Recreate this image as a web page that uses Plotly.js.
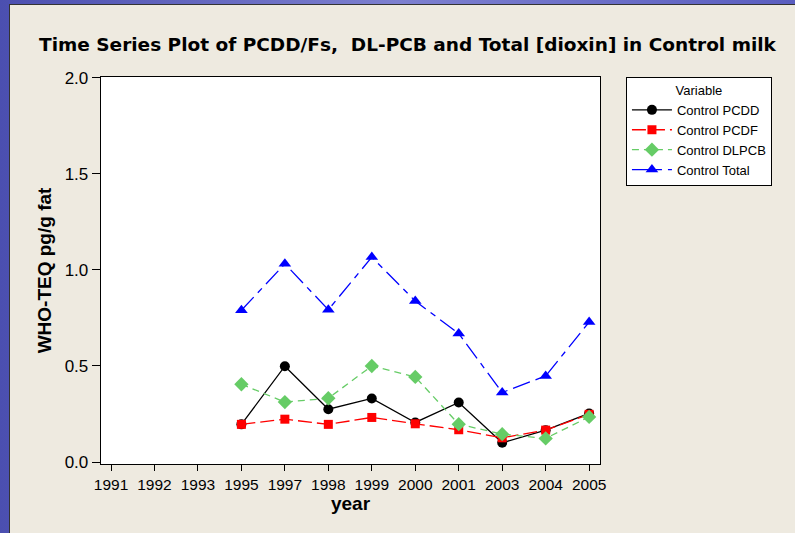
<!DOCTYPE html>
<html>
<head>
<meta charset="utf-8">
<script src="https://cdn.plot.ly/plotly-3.0.1.min.js"></script>
<style>
html,body{margin:0;padding:0;width:795px;height:533px;overflow:hidden;
  background:linear-gradient(90deg,#4b4fb0 0%,#7d80d0 50%,#5a5ec0 100%);}
#chart{position:absolute;left:9px;top:4px;width:786px;height:529px;
  border-left:1px solid #333;border-top:1px solid #333;background:#EEEAE0;}
</style>
</head>
<body>
<div id="chart"></div>
<script>
var years = ["1991","1992","1993","1995","1997","1998","1999","2000","2001","2003","2004","2005"];
var dataYears = ["1995","1997","1998","1999","2000","2001","2003","2004","2005"];
var pcdd  = [0.196,0.499,0.275,0.331,0.206,0.310,0.100,0.166,0.253];
var pcdf  = [0.196,0.223,0.196,0.232,0.199,0.168,0.126,0.166,0.248];
var dlpcb = [0.405,0.312,0.332,0.500,0.443,0.197,0.145,0.123,0.235];
var total = [0.790,1.032,0.793,1.067,0.838,0.669,0.362,0.448,0.729];
var yTicks = [0,0.5,1.0,1.5,2.0];
var yTickText = ["0.0","0.5","1.0","1.5","2.0"];

var traces = [
  {x:dataYears,y:pcdd,name:"Control PCDD",mode:"lines+markers",
   line:{color:"#000000",width:1.3,dash:"solid"},marker:{symbol:"circle",size:10,color:"#000000"}},
  {x:dataYears,y:pcdf,name:"Control PCDF",mode:"lines+markers",
   line:{color:"#FF0000",width:1.3,dash:"14px,5px"},marker:{symbol:"square",size:9,color:"#FF0000"}},
  {x:dataYears,y:dlpcb,name:"Control DLPCB",mode:"lines+markers",
   line:{color:"#66CC66",width:1.3,dash:"7px,5px"},marker:{symbol:"diamond",size:11,color:"#66CC66"}},
  {x:dataYears,y:total,name:"Control Total",mode:"lines+markers",
   line:{color:"#0000FF",width:1.3,dash:"18px,6px,6px,6px"},marker:{symbol:"triangle-up",size:11,color:"#0000FF"}}
];

var layout = {
  width:786,height:529,
  margin:{l:91,r:196,t:72,b:70},
  paper_bgcolor:"#EEEAE0",plot_bgcolor:"#FFFFFF",
  font:{family:"Liberation Sans, Arial, sans-serif",color:"#000000",size:13},
  title:{text:"<b>Time Series Plot of PCDD/Fs,  DL-PCB and Total [dioxin] in Control milk</b>",
    font:{size:18.5,family:"DejaVu Sans, Verdana, sans-serif"},x:0.5057,xref:"container",xanchor:"center",
    y:1-(40/529),yref:"container",yanchor:"middle"},
  xaxis:{type:"category",categoryorder:"array",categoryarray:years,range:[-0.23,11.25],
    tickmode:"array",tickvals:years,ticktext:years,
    showline:true,linecolor:"#000",linewidth:1.3,mirror:true,ticks:"outside",ticklen:6,tickcolor:"#000",
    showgrid:false,zeroline:false,
    tickfont:{size:15.5},
    title:{text:"<b>year</b>",font:{size:19},standoff:3}},
  yaxis:{range:[-0.0104,2.005],tickmode:"array",tickvals:yTicks,ticktext:yTickText,
    showline:true,linecolor:"#000",linewidth:1.3,mirror:true,ticks:"outside",ticklen:8,tickcolor:"#000",
    showgrid:false,zeroline:false,tickfont:{size:17},
    title:{text:"<b>WHO-TEQ pg/g fat</b>",font:{size:19},standoff:8}},
  showlegend:true,
  legend:{x:1.052,xanchor:"left",y:1,yanchor:"top",bgcolor:"#FFFFFF",bordercolor:"#000",borderwidth:1,
    font:{size:13},itemwidth:40,tracegroupgap:0,
    title:{text:"Variable",side:"top center",font:{size:13}}}
};
Plotly.newPlot("chart",traces,layout,{displayModeBar:false,staticPlot:true});
</script>
</body>
</html>
